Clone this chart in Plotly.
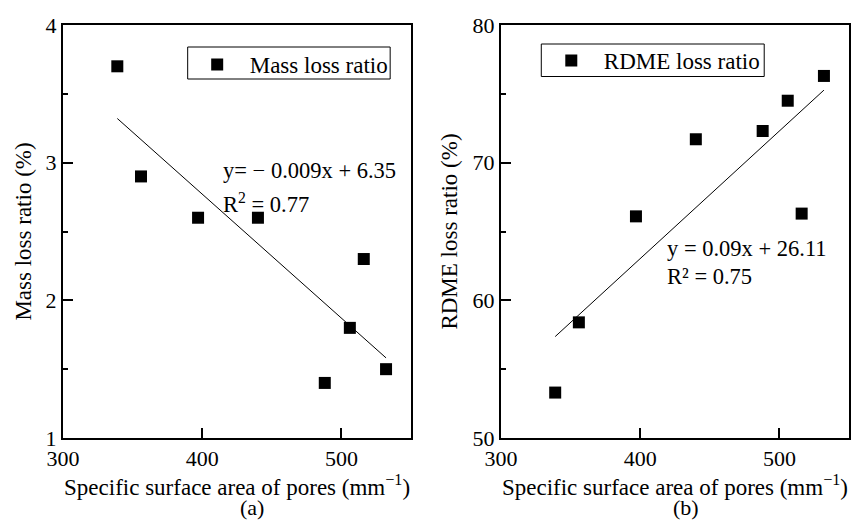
import numpy as np
import plotly.graph_objects as go

# Data
pore_area = [339, 356, 397, 440, 488, 506, 516, 532]          # mm^-1
mass_loss = [3.70, 2.90, 2.60, 2.60, 1.40, 1.80, 2.30, 1.50]  # %
rdme_loss = [53.3, 58.4, 66.1, 71.7, 72.3, 74.5, 66.3, 76.3]  # %

eq_a = "y= − 0.009x + 6.35"
r2_a = "R<sup>2</sup> = 0.77"
eq_b = "y = 0.09x + 26.11"
r2_b = "R² = 0.75"

x_title = "Specific surface area of pores (mm<sup>−1</sup>)"
x_ticks = [300, 400, 500]

FONT = "Liberation Serif, Times New Roman, serif"
FS = 23
TFS = 22
W, H = 852, 520
ML, MR, MT, MB = 63, 1, 25, 82
PW = W - ML - MR
PH = H - MT - MB

def px_x(x):
    return (x - ML) / PW

def px_y(y):
    return (H - MB - y) / PH

fig = go.Figure()

xs = np.array(pore_area, dtype=float)
xfit = np.array([xs.min(), xs.max()])

for i, (yv, name, leg) in enumerate([(mass_loss, "Mass loss ratio", "legend"),
                                     (rdme_loss, "RDME loss ratio", "legend2")]):
    xa = "x" if i == 0 else "x2"
    ya = "y" if i == 0 else "y2"
    fig.add_trace(go.Scatter(x=pore_area, y=yv, mode="markers", name=name,
                             marker=dict(symbol="square", size=12, color="black"),
                             xaxis=xa, yaxis=ya, legend=leg))
    k, b = np.polyfit(xs, np.array(yv, dtype=float), 1)
    fig.add_trace(go.Scatter(x=xfit, y=k * xfit + b, mode="lines",
                             line=dict(color="black", width=1), showlegend=False,
                             xaxis=xa, yaxis=ya))

tick_font = dict(family=FONT, size=TFS, color="black")
title_font = dict(family=FONT, size=FS, color="black")

def axis(**kw):
    d = dict(showline=True, linecolor="black", linewidth=2, mirror=True,
             ticks="inside", ticklen=10, tickwidth=1.5, tickcolor="black",
             showgrid=False, zeroline=False, tickfont=tick_font)
    d.update(kw)
    return d

legend_common = dict(xanchor="left", yanchor="top", borderwidth=0,
                     bgcolor="rgba(0,0,0,0)", itemwidth=55,
                     font=dict(family=FONT, size=FS, color="black"))

fig.update_layout(
    width=W, height=H,
    margin=dict(l=ML, r=MR, t=MT, b=MB),
    paper_bgcolor="white", plot_bgcolor="white",
    font=dict(family=FONT, size=FS, color="black"),
    xaxis=axis(domain=[px_x(63), px_x(412)], range=[300, 550], tickvals=x_ticks,
               anchor="y", title=dict(text=x_title, standoff=0, font=title_font)),
    yaxis=axis(domain=[0, 1], range=[1, 4], dtick=1, anchor="x",
               minor=dict(ticks="inside", ticklen=5, tickwidth=1.5, tickcolor="black", dtick=0.5),
               title=dict(text="Mass loss ratio (%)", standoff=8, font=title_font)),
    xaxis2=axis(domain=[px_x(502), px_x(851)], range=[300, 550], tickvals=x_ticks,
                anchor="y2", title=dict(text=x_title, standoff=0, font=title_font)),
    yaxis2=axis(domain=[0, 1], range=[50, 80], dtick=10, anchor="x2",
                minor=dict(ticks="inside", ticklen=5, tickwidth=1.5, tickcolor="black", dtick=5),
                title=dict(text="RDME loss ratio (%)", standoff=8, font=title_font)),
    legend=dict(legend_common, x=px_x(185), y=px_y(43)),
    legend2=dict(legend_common, x=px_x(540), y=px_y(39)),
    shapes=[
        dict(type="rect", xref="paper", yref="paper", x0=px_x(188), x1=px_x(391),
             y0=px_y(79), y1=px_y(47), line=dict(color="black", width=1)),
        dict(type="rect", xref="paper", yref="paper", x0=px_x(542.5), x1=px_x(766),
             y0=px_y(76.5), y1=px_y(44), line=dict(color="black", width=1)),
    ],
)

ann_font = dict(family=FONT, size=22.5, color="black")
lab_font = dict(family=FONT, size=22, color="black")
fig.add_annotation(x=413.6, y=2.94, xref="x", yref="y", text=eq_a, showarrow=False,
                   xanchor="left", yanchor="middle", font=ann_font)
fig.add_annotation(x=413.6, y=2.71, xref="x", yref="y", text=r2_a, showarrow=False,
                   xanchor="left", yanchor="middle", font=ann_font)
fig.add_annotation(x=418.1, y=63.8, xref="x2", yref="y2", text=eq_b, showarrow=False,
                   xanchor="left", yanchor="middle", font=ann_font)
fig.add_annotation(x=418.1, y=61.7, xref="x2", yref="y2", text=r2_b, showarrow=False,
                   xanchor="left", yanchor="middle", font=ann_font)
fig.add_annotation(x=px_x(252), y=px_y(507), xref="paper", yref="paper", text="(a)",
                   showarrow=False, xanchor="center", yanchor="middle", font=lab_font)
fig.add_annotation(x=px_x(688), y=px_y(507), xref="paper", yref="paper", text="(b)",
                   showarrow=False, xanchor="center", yanchor="middle", font=lab_font)

fig.write_html("out.html")
